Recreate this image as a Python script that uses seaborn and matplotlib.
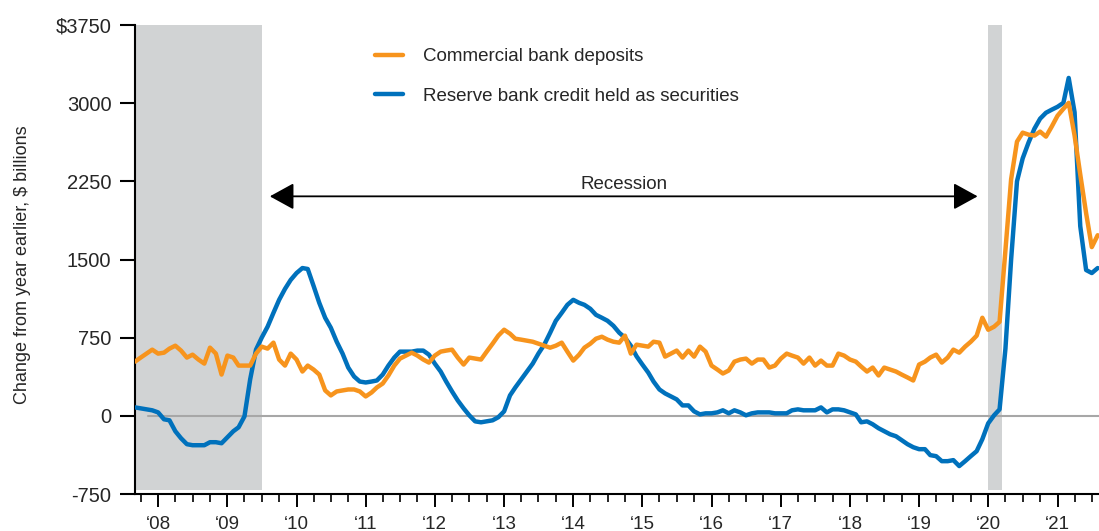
import numpy as np
import pandas as pd
import matplotlib
matplotlib.use("Agg")
import matplotlib.pyplot as plt
import matplotlib.dates as mdates
import seaborn as sns

# monthly values, Sep 2007 - Aug 2021, $ billions (change from year earlier)
months = pd.date_range("2007-09-01", periods=168, freq="MS")

deposits = [
    520, 559, 597, 635, 597, 606, 645, 673, 626, 559, 587, 540,
    501, 654, 597, 396, 578, 559, 482, 482, 482, 597, 664, 645,
    702, 540, 482, 597, 540, 425, 482, 444, 396, 244, 196, 234,
    244, 253, 253, 234, 186, 224, 272, 310, 387, 482, 549, 578,
    606, 578, 540, 511, 578, 616, 626, 635, 559, 492, 559, 549,
    540, 616, 692, 769, 826, 788, 740, 731, 721, 711, 692, 673,
    654, 673, 702, 616, 530, 587, 654, 692, 740, 759, 731, 711,
    702, 769, 597, 683, 673, 664, 711, 702, 568, 597, 626, 559,
    626, 568, 664, 616, 482, 444, 406, 435, 520, 540, 549, 501,
    540, 540, 463, 482, 549, 597, 578, 559, 501, 559, 482, 530,
    482, 482, 597, 578, 540, 520, 473, 425, 463, 387, 463, 444,
    425, 396, 368, 339, 492, 520, 559, 587, 511, 559, 635, 606,
    664, 711, 769, 941, 826, 855, 902, 1590, 2270, 2631, 2717, 2698,
    2689, 2727, 2679, 2774, 2879, 2946, 3003, 2690, 2316, 1944, 1619, 1733,
]

reserve_credit = [
    81, 72, 62, 53, 33, -33, -43, -148, -215, -272, -282, -282,
    -282, -253, -253, -263, -205, -148, -110, -5, 349, 635, 750, 855,
    988, 1113, 1218, 1304, 1370, 1418, 1409, 1246, 1084, 941, 845, 711,
    597, 463, 377, 329, 320, 329, 339, 396, 482, 559, 616, 616,
    616, 626, 626, 587, 501, 425, 329, 234, 148, 72, 5, -53,
    -62, -53, -43, -14, 43, 196, 272, 349, 425, 501, 597, 683,
    797, 912, 988, 1065, 1113, 1084, 1065, 1027, 969, 941, 912, 864,
    797, 750, 673, 572, 492, 415, 329, 253, 215, 186, 158, 100,
    100, 43, 14, 24, 24, 33, 53, 24, 53, 33, 5, 24,
    33, 33, 33, 24, 24, 24, 53, 62, 53, 53, 53, 81,
    33, 62, 62, 53, 33, 14, -62, -53, -81, -119, -148, -177,
    -196, -234, -272, -301, -320, -320, -377, -387, -435, -435, -425, -482,
    -435, -387, -339, -224, -72, 5, 62, 645, 1500, 2250, 2470, 2622,
    2755, 2851, 2908, 2937, 2965, 3003, 3242, 2913, 1820, 1399, 1370, 1418,
]

series_names = ["Commercial bank deposits", "Reserve bank credit held as securities"]
series_colors = ["#f7941d", "#0071bc"]

recession_start = ["2007-09-01", "2020-01-01"]
recession_end = ["2009-07-01", "2020-03-12"]

y_ticks = [3750, 3000, 2250, 1500, 750, 0, -750]
y_tick_labels = ["$3750", "3000", "2250", "1500", "750", "0", "-750"]

sns.set_style("white")
plt.rcParams["font.family"] = ["Liberation Sans", "DejaVu Sans"]

fig = plt.figure(figsize=(10.99, 5.31), dpi=100)
ax = fig.add_axes([135 / 1099, 1 - 494 / 531, (1099 - 135) / 1099, (494 - 25) / 531])

# shaded recessions
for s, e in zip(recession_start, recession_end):
    ax.axvspan(pd.Timestamp(s), pd.Timestamp(e), ymin=0.009, ymax=1,
               color="#d1d3d4", lw=0, zorder=0)

ax.axhline(0, xmin=0.013, color="#a7a7a7", lw=1.5, zorder=1)

df = pd.DataFrame({"month": months, "deposits": deposits, "reserve": reserve_credit})
sns.lineplot(data=df, x="month", y="reserve", color=series_colors[1], lw=3.2,
             label=series_names[1], ax=ax, zorder=3)
sns.lineplot(data=df, x="month", y="deposits", color=series_colors[0], lw=3.2,
             label=series_names[0], ax=ax, zorder=4)

handles, labels = ax.get_legend_handles_labels()
ax.legend(handles[::-1], labels[::-1], loc="upper left",
          bbox_to_anchor=(375 / 1099, 1 - 48 / 531), bbox_transform=fig.transFigure,
          frameon=False, fontsize=13.5, handlelength=1.5, handletextpad=1.05,
          labelspacing=1.2, borderpad=0, borderaxespad=0)

# arrow + label
ax.annotate("", xy=(pd.Timestamp("2009-08-13"), 2106), xytext=(pd.Timestamp("2019-11-06"), 2106),
            arrowprops=dict(arrowstyle="<|-|>,head_length=0.6,head_width=0.33",
                            mutation_scale=25, lw=1.3, color="black", shrinkA=0, shrinkB=0))
ax.text(pd.Timestamp("2014-09-24"), 2220, "Recession", ha="center", va="center", fontsize=13.5)

ax.set_xlim(pd.Timestamp("2007-09-01"), pd.Timestamp("2021-08-08"))
ax.set_ylim(-750, 3750)
ax.set_yticks(y_ticks)
ax.set_yticklabels(y_tick_labels)
ax.xaxis.set_major_locator(mdates.YearLocator())
ax.xaxis.set_major_formatter(mdates.DateFormatter("\u2018%y"))
ax.xaxis.set_minor_locator(mdates.MonthLocator(bymonth=[1, 4, 7, 10]))

ax.tick_params(axis="x", which="major", direction="out", length=9.5, width=1.4,
               labelsize=13.5, pad=6, bottom=True, color="black")
ax.tick_params(axis="x", which="minor", direction="out", length=5.5, width=1.2,
               bottom=True, color="black")
ax.tick_params(axis="y", direction="out", length=11, width=1.5, labelsize=14.5,
               pad=6, left=True, color="black")

for side in ["top", "right"]:
    ax.spines[side].set_visible(False)
for side in ["left", "bottom"]:
    ax.spines[side].set_color("black")
    ax.spines[side].set_linewidth(1.5)

ax.set_xlabel("")
ax.set_ylabel("Change from year earlier, $ billions", fontsize=13)
ax.yaxis.set_label_coords(-0.108, 0.49)

fig.savefig("out.png", dpi=100)
